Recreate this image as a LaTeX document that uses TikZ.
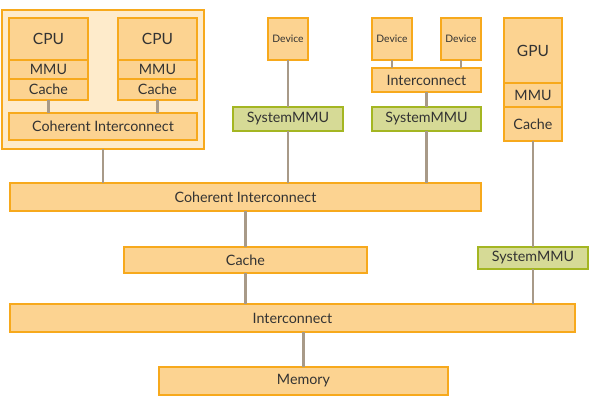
\documentclass[tikz,border=0pt]{standalone}
\usepackage{fontspec}
\setmainfont{Lato}
\definecolor{boxfill}{HTML}{FCD391}
\definecolor{boxline}{HTML}{F7A91C}
\definecolor{clusterfill}{HTML}{FEEBCB}
\definecolor{mmufill}{HTML}{D6DA96}
\definecolor{mmuline}{HTML}{A4B622}
\definecolor{linkcol}{HTML}{A89A88}
\definecolor{txt}{HTML}{333333}
\tikzset{
  box/.style={draw=boxline, fill=boxfill, line width=1.7pt, inner sep=0pt, outer sep=0pt,
    anchor=north west, text=txt, font=\fontsize{14.3}{16}\selectfont},
  smmubox/.style={box, draw=mmuline, fill=mmufill},
  devbox/.style={box, font=\fontsize{10.3}{12}\selectfont},
  cpufont/.style={font=\fontsize{15.5}{18}\selectfont},
  link/.style={draw=linkcol, line width=2.8pt}
}
\begin{document}
\begin{tikzpicture}[x=1pt,y=-1pt]
\useasboundingbox (0,0) rectangle (595,405);

% CPU cluster
\node[box, fill=clusterfill, minimum width=202pt, minimum height=139pt] (cluster) at (2,10) {};
\node[box, cpufont, minimum width=79pt, minimum height=42pt] (cpua) at (9,18) {CPU};
\node[box, minimum width=79pt, minimum height=19pt] (mmua) at (9,60) {MMU};
\node[box, minimum width=79pt, minimum height=21pt] (cachea) at (9,79) {Cache};
\node[box, cpufont, minimum width=79pt, minimum height=42pt] (cpub) at (118,18) {CPU};
\node[box, minimum width=79pt, minimum height=19pt] (mmub) at (118,60) {MMU};
\node[box, minimum width=79pt, minimum height=21pt] (cacheb) at (118,79) {Cache};
\node[box, minimum width=188pt, minimum height=27pt] (cci) at (9,113) {Coherent Interconnect};
\draw[link] (cachea.south) -- (cachea.south |- cci.north);
\draw[link] (cacheb.south) -- (cacheb.south |- cci.north);

% devices
\node[devbox, minimum width=40pt, minimum height=42pt] (deva) at (268,18) {Device};
\node[smmubox, minimum width=110pt, minimum height=24pt] (smmua) at (233,107) {SystemMMU};
\node[devbox, minimum width=40pt, minimum height=42pt] (devb) at (372,18) {Device};
\node[devbox, minimum width=40pt, minimum height=42pt] (devc) at (441,18) {Device};
\node[box, minimum width=109pt, minimum height=24pt] (ics) at (372,68) {Interconnect};
\node[smmubox, minimum width=109pt, minimum height=24pt] (smmub) at (372,107) {SystemMMU};

% GPU
\node[box, cpufont, minimum width=58pt, minimum height=65pt] (gpu) at (504,18) {GPU};
\node[box, minimum width=58pt, minimum height=24pt] (mmuc) at (504,83) {MMU};
\node[box, minimum width=58pt, minimum height=34pt] (cachec) at (504,107) {Cache};
\node[smmubox, minimum width=110pt, minimum height=22pt] (smmuc) at (478,247) {SystemMMU};

% system level
\node[box, minimum width=471pt, minimum height=28pt] (ci) at (10,183) {Coherent Interconnect};
\node[box, minimum width=243pt, minimum height=26pt] (cache) at (124,247) {Cache};
\node[box, minimum width=565pt, minimum height=28pt] (ic) at (10,304) {Interconnect};
\node[box, minimum width=289pt, minimum height=28pt] (mem) at (159,367) {Memory};

\draw[link] (deva.south) -- (smmua.north);
\draw[link] (devb.south) -- (devb.south |- ics.north);
\draw[link] (devc.south) -- (devc.south |- ics.north);
\draw[link] (ics.south) -- (smmub.north);
\draw[link] (gpu.south |- cachec.south) -- (smmuc.north);
\draw[link] (cluster.south) -- (cluster.south |- ci.north);
\draw[link] (smmua.south) -- (smmua.south |- ci.north);
\draw[link] (smmub.south) -- (smmub.south |- ci.north);
\draw[link] (ci.south -| cache.north) -- (cache.north);
\draw[link] (cache.south) -- (cache.south |- ic.north);
\draw[link] (smmuc.south) -- (smmuc.south |- ic.north);
\draw[link] (mem.north |- ic.south) -- (mem.north);
\end{tikzpicture}
\end{document}
